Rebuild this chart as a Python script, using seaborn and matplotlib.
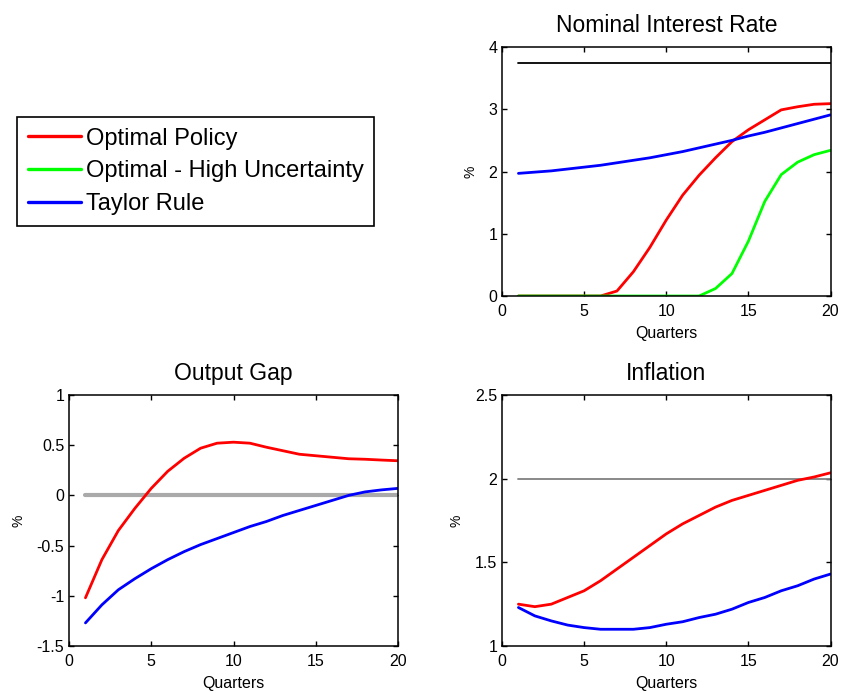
import matplotlib
matplotlib.use("Agg")
import matplotlib.pyplot as plt
from matplotlib.lines import Line2D
import seaborn as sns
import pandas as pd

# ---------------- data ----------------
quarters = list(range(1, 21))

rate_optimal = [0, 0, 0, 0, 0, 0, 0.08, 0.39, 0.78, 1.22, 1.62, 1.94, 2.22, 2.48,
                2.67, 2.83, 2.99, 3.04, 3.08, 3.09]
rate_high_unc = [0, 0, 0, 0, 0, 0, 0, 0, 0, 0, 0, 0, 0.12, 0.36, 0.88, 1.52,
                 1.95, 2.15, 2.27, 2.34]
rate_taylor = [1.97, 1.99, 2.01, 2.04, 2.07, 2.10, 2.14, 2.18, 2.22, 2.27, 2.32,
               2.38, 2.44, 2.50, 2.57, 2.63, 2.70, 2.77, 2.84, 2.91]
rate_level = 3.75

gap_optimal = [-1.02, -0.64, -0.35, -0.13, 0.07, 0.24, 0.37, 0.47, 0.52, 0.53,
               0.52, 0.48, 0.445, 0.41, 0.395, 0.38, 0.365, 0.36, 0.352, 0.345]
gap_taylor = [-1.27, -1.09, -0.94, -0.83, -0.73, -0.64, -0.56, -0.49, -0.43,
              -0.37, -0.31, -0.26, -0.20, -0.15, -0.10, -0.05, 0.0, 0.035, 0.055, 0.07]
gap_level = 0.0

infl_optimal = [1.25, 1.235, 1.25, 1.29, 1.33, 1.39, 1.46, 1.53, 1.60, 1.67,
                1.73, 1.78, 1.83, 1.87, 1.90, 1.93, 1.96, 1.99, 2.01, 2.035]
infl_taylor = [1.23, 1.18, 1.15, 1.125, 1.11, 1.10, 1.10, 1.10, 1.11, 1.13,
               1.145, 1.17, 1.19, 1.22, 1.26, 1.29, 1.33, 1.36, 1.40, 1.43]
infl_level = 2.0

series_names = ["Optimal Policy", "Optimal - High Uncertainty", "Taylor Rule"]
series_colors = ["#ff0000", "#00ff00", "#0000ff"]

titles = ["Nominal Interest Rate", "Output Gap", "Inflation"]
xticks = [0, 5, 10, 15, 20]
rate_yticks = [0, 1, 2, 3, 4]
gap_yticks = [-1.5, -1, -0.5, 0, 0.5, 1]
infl_yticks = [1, 1.5, 2, 2.5]
gap_yticklabels = ["-1.5", "-1", "-0.5", "0", "0.5", "1"]
infl_yticklabels = ["1", "1.5", "2", "2.5"]

# ---------------- style ----------------
sns.set_theme(style="ticks")
plt.rcParams["font.family"] = ["Liberation Sans", "DejaVu Sans"]
plt.rcParams.update({
    "axes.unicode_minus": False,
    "text.color": "black",
    "axes.labelcolor": "black",
    "axes.titlecolor": "black",
    "xtick.direction": "in",
    "ytick.direction": "in",
    "xtick.top": True,
    "ytick.right": True,
    "xtick.major.size": 3.5,
    "ytick.major.size": 3.5,
    "xtick.major.width": 1.0,
    "ytick.major.width": 1.0,
    "axes.linewidth": 1.1,
    "axes.edgecolor": "black",
    "xtick.color": "black",
    "ytick.color": "black",
    "xtick.labelcolor": "black",
    "ytick.labelcolor": "black",
    "xtick.labelsize": 11.5,
    "ytick.labelsize": 11.5,
})

fig = plt.figure(figsize=(8.42, 6.93), dpi=100, facecolor="white")
W, H = 842.0, 693.0


def add_ax(l, t, r, b):
    return fig.add_axes([l / W, 1 - b / H, (r - l) / W, (b - t) / H])


ax_rate = add_ax(502, 47, 830.5, 296)
ax_gap = add_ax(69, 395, 398, 646)
ax_infl = add_ax(502, 395, 830.5, 646)

LW = 2.0


def draw(ax, x, y, color, lw=LW):
    df = pd.DataFrame({"x": x, "y": y})
    sns.lineplot(data=df, x="x", y="y", ax=ax, color=color, linewidth=lw,
                 legend=False)


# Nominal interest rate
draw(ax_rate, quarters, [rate_level] * len(quarters), "black", 1.3)
draw(ax_rate, quarters, rate_optimal, series_colors[0])
draw(ax_rate, quarters, rate_high_unc, series_colors[1])
draw(ax_rate, quarters, rate_taylor, series_colors[2])
ax_rate.set_ylim(0, 4)
ax_rate.set_yticks(rate_yticks)

# Output gap
draw(ax_gap, quarters, [gap_level] * len(quarters), "#aaaaaa", 3.0)
draw(ax_gap, quarters, gap_optimal, series_colors[0])
draw(ax_gap, quarters, gap_taylor, series_colors[2])
ax_gap.set_ylim(-1.5, 1)
ax_gap.set_yticks(gap_yticks)
ax_gap.set_yticklabels(gap_yticklabels)

# Inflation
draw(ax_infl, quarters, [infl_level] * len(quarters), "#808080", 1.3)
draw(ax_infl, quarters, infl_optimal, series_colors[0])
draw(ax_infl, quarters, infl_taylor, series_colors[2])
ax_infl.set_ylim(1, 2.5)
ax_infl.set_yticks(infl_yticks)
ax_infl.set_yticklabels(infl_yticklabels)

for ax, title in zip([ax_rate, ax_gap, ax_infl], titles):
    ax.set_xlim(0, 20)
    ax.set_xticks(xticks)
    ax.set_title(title, fontsize=16.5, pad=11, color="black")
    ax.set_xlabel("Quarters", fontsize=11.5, labelpad=5)
    ax.set_ylabel("%", fontsize=10, labelpad=8)
    ax.tick_params(axis="x", which="both", pad=6)
    ax.tick_params(axis="y", which="both", pad=3.5)
    for sp in ax.spines.values():
        sp.set_visible(True)

handles = [Line2D([0], [0], color=c, lw=2.4) for c in series_colors]
leg = fig.legend(handles, series_names, loc="upper left",
                 bbox_to_anchor=(17 / W, 1 - 117 / H),
                 fontsize=17, frameon=True, fancybox=False,
                 edgecolor="black", framealpha=1, handlelength=2.25,
                 handletextpad=0.22, labelspacing=0.45, borderpad=0.45,
                 borderaxespad=0)
leg.get_frame().set_linewidth(1.2)

fig.savefig("out.png", dpi=100, facecolor="white")
